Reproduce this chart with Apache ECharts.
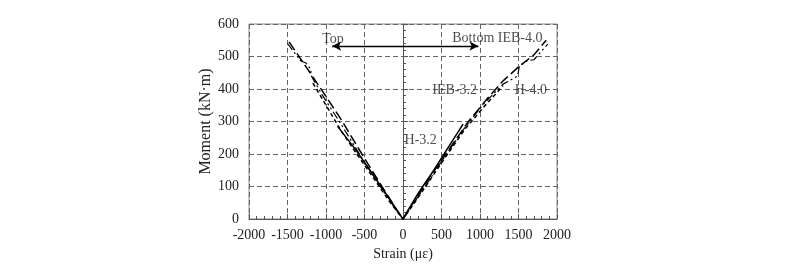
<!DOCTYPE html>
<html><head><meta charset="utf-8">
<script src="https://cdn.jsdelivr.net/npm/echarts@6/dist/echarts.min.js"></script>
<style>html,body{margin:0;padding:0;background:#fff}#c{width:800px;height:270px}</style>
</head><body><div id="c"></div>
<script>
// Series data: [strain (με), moment (kN·m)] — top (negative) branch then bottom (positive) branch
const H32 = [[-850,285],[-620,215],[-400,140],[-200,70],[-60,20],[0,0],[60,25],[200,80],[400,150],[600,225],[780,292]];
const H40 = [[-1480,545],[-1250,465],[-1050,395],[-800,305],[-560,210],[-300,110],[-100,35],[0,0],[120,45],[350,130],[600,215],[850,300],[1100,372],[1300,425],[1500,468],[1700,505],[1860,550]];
const IEB32 = [[-1170,418],[-1000,350],[-800,270],[-600,200],[-380,125],[-180,55],[0,0],[150,50],[350,120],[550,190],[800,275],[1050,345],[1300,410]];
const IEB40 = [[-1500,540],[-1330,487],[-1260,480],[-1200,462],[-1190,440],[-1050,382],[-800,290],[-540,190],[-280,95],[-80,25],[0,0],[100,35],[300,105],[550,195],[800,280],[1050,355],[1300,415],[1490,440],[1510,470],[1620,488],[1700,490],[1880,538]];
const xTicks = [-2000,-1500,-1000,-500,0,500,1000,1500,2000];
const yTicks = [0,100,200,300,400,500,600];
const labelNames = ['Top','Bottom IEB-4.0','IEB-3.2','H-4.0','H-3.2'];
const labelPos = [[-1050,553],[640,557],[380,397],[1450,397],[20,243]];
const arrowFrom = [-920,532];
const arrowTo = [980,532];

const font = '"Liberation Serif", "DejaVu Serif", serif';
const chart = echarts.init(document.getElementById('c'));
const base = {type:'line', symbol:'none', silent:true, animation:false, color:'#000'};
chart.setOption({
  animation:false,
  grid:{left:249, right:243, top:24, bottom:51, show:true, borderColor:'#888', borderWidth:1},
  xAxis:{type:'value', min:-2000, max:2000, interval:500,
    name:'Strain (με)', nameLocation:'middle', nameGap:25,
    nameTextStyle:{fontFamily:font, fontSize:14, color:'#222'},
    axisLine:{onZero:false, lineStyle:{color:'#555'}},
    axisTick:{inside:true, length:5, lineStyle:{color:'#555'}},
    minorTick:{show:true, splitNumber:5, length:3, lineStyle:{color:'#555'}},
    axisLabel:{fontFamily:font, fontSize:14, color:'#222', margin:9,
      formatter:v=> xTicks.includes(v)? String(v):''},
    splitLine:{show:true, lineStyle:{color:'#666', type:[5,3], width:1}}},
  yAxis:{type:'value', min:0, max:600, interval:100,
    name:'Moment (kN·m)', nameLocation:'middle', nameGap:34,
    nameTextStyle:{fontFamily:font, fontSize:16, color:'#222'},
    axisLine:{show:true, lineStyle:{color:'#555'}},
    axisTick:{inside:true, length:5, lineStyle:{color:'#555'}},
    minorTick:{show:true, splitNumber:5, length:3, lineStyle:{color:'#555'}},
    axisLabel:{fontFamily:font, fontSize:14, color:'#222', margin:10,
      formatter:v=> yTicks.includes(v)? String(v):''},
    splitLine:{show:true, lineStyle:{color:'#666', type:[5,3], width:1}}},
  series:[
    Object.assign({}, base, {name:'H-3.2', data:H32, lineStyle:{color:'#000', width:1.5, type:'solid'}}),
    Object.assign({}, base, {name:'H-4.0', data:H40, lineStyle:{color:'#000', width:1.5, type:[10,4]}}),
    Object.assign({}, base, {name:'IEB-3.2', data:IEB32, lineStyle:{color:'#000', width:1.5, type:[4,3]}}),
    Object.assign({}, base, {name:'IEB-4.0', data:IEB40, lineStyle:{color:'#000', width:1.2, type:[8,3,2,3,2,3]},
      markLine:{silent:true, symbol:['arrow','arrow'], symbolSize:[7,9], label:{show:false},
        lineStyle:{color:'#000', width:1.3, type:'solid'},
        data:[[{coord:arrowFrom},{coord:arrowTo}]]}}),
    {type:'scatter', silent:true, symbolSize:0, animation:false,
      data: labelNames.map((n,i)=>({name:n, value:labelPos[i]})),
      label:{show:true, position:'right', distance:0, formatter:p=>p.name,
        fontFamily:font, fontSize:14, color:'#222'}}
  ]
});
</script></body></html>
